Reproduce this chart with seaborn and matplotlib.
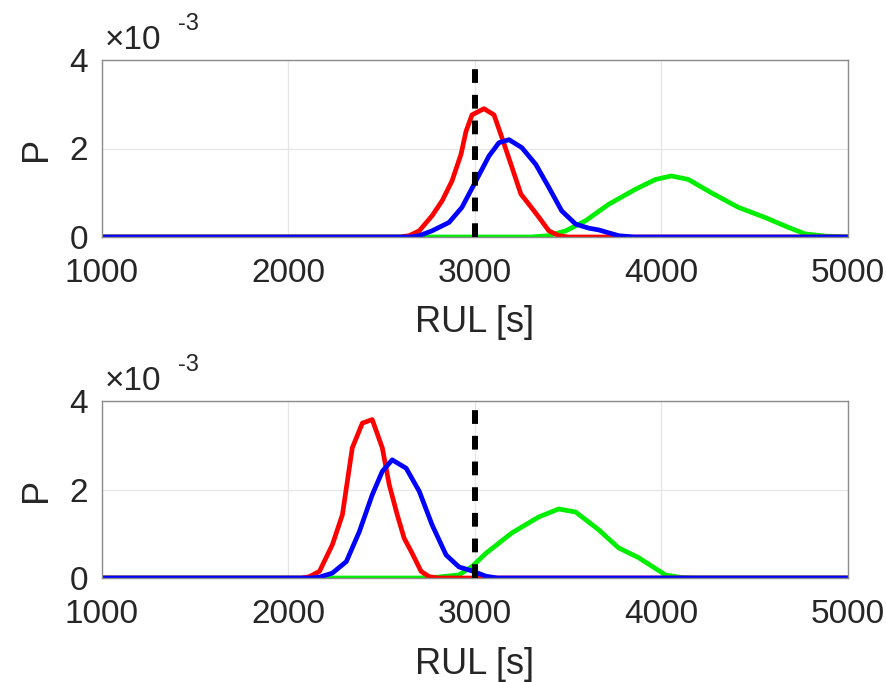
import matplotlib
matplotlib.use("Agg")
import matplotlib.pyplot as plt
import matplotlib.ticker as mticker
import seaborn as sns
import pandas as pd
import numpy as np

# ---- data (RUL in s, P in units of 1e-3) ----
top_red_x = [1000, 2600, 2647, 2701, 2770, 2824, 2877, 2925, 2952, 2984, 3048, 3102, 3144, 3193, 3246, 3289, 3342, 3396, 3449, 3500, 5000]
top_red_y = [0, 0, 0.03, 0.14, 0.48, 0.82, 1.27, 1.87, 2.39, 2.76, 2.90, 2.76, 2.25, 1.64, 0.97, 0.74, 0.45, 0.14, 0.03, 0.0, 0]
top_blue_x = [1000, 2650, 2701, 2770, 2861, 2930, 3005, 3075, 3128, 3182, 3251, 3326, 3396, 3465, 3540, 3610, 3663, 3770, 3850, 5000]
top_blue_y = [0, 0, 0.03, 0.14, 0.33, 0.67, 1.27, 1.83, 2.13, 2.20, 2.02, 1.64, 1.12, 0.59, 0.29, 0.20, 0.16, 0.03, 0.0, 0]
top_green_x = [1000, 3300, 3396, 3487, 3594, 3717, 3861, 3968, 4053, 4144, 4267, 4412, 4556, 4679, 4770, 4877, 5000]
top_green_y = [0, 0, 0.03, 0.14, 0.37, 0.74, 1.08, 1.30, 1.38, 1.30, 1.00, 0.67, 0.44, 0.22, 0.07, 0.02, 0]

bot_red_x = [1000, 2070, 2112, 2166, 2235, 2289, 2342, 2396, 2449, 2503, 2540, 2583, 2620, 2658, 2711, 2754, 2800, 5000]
bot_red_y = [0, 0, 0.03, 0.15, 0.75, 1.43, 2.94, 3.50, 3.58, 2.94, 2.11, 1.43, 0.90, 0.60, 0.15, 0.03, 0.0, 0]
bot_blue_x = [1000, 2120, 2166, 2235, 2310, 2380, 2449, 2503, 2556, 2631, 2701, 2770, 2845, 2914, 2984, 3059, 3120, 5000]
bot_blue_y = [0, 0, 0.02, 0.11, 0.37, 1.05, 1.88, 2.41, 2.67, 2.48, 1.96, 1.20, 0.52, 0.25, 0.16, 0.04, 0.0, 0]
bot_green_x = [1000, 2700, 2800, 2914, 2984, 3059, 3198, 3342, 3449, 3540, 3663, 3770, 3877, 4021, 4107, 4180, 5000]
bot_green_y = [0, 0, 0.02, 0.07, 0.26, 0.56, 1.02, 1.38, 1.56, 1.49, 1.09, 0.68, 0.46, 0.07, 0.01, 0.0, 0]

true_rul = 3000
x_ticks = [1000, 2000, 3000, 4000, 5000]
y_ticks = [0, 2, 4]

sns.set_style("whitegrid")
plt.rcParams['font.family'] = ['Liberation Sans', 'DejaVu Sans']

TXT = "#262626"


def make_df(rx, ry, bx, by, gx, gy):
    frames = []
    for name, xs, ys in [("green", gx, gy), ("red", rx, ry), ("blue", bx, by)]:
        frames.append(pd.DataFrame({"RUL": xs, "P": ys, "series": name}))
    return pd.concat(frames, ignore_index=True)


df_top = make_df(top_red_x, top_red_y, top_blue_x, top_blue_y, top_green_x, top_green_y)
df_bot = make_df(bot_red_x, bot_red_y, bot_blue_x, bot_blue_y, bot_green_x, bot_green_y)

palette = {"green": "#00ee00", "red": "#ff0000", "blue": "#0000ff"}

W, H = 887, 682
fig = plt.figure(figsize=(W / 100, H / 100), dpi=100)
ax1 = fig.add_axes([102 / W, 1 - 237 / H, 746 / W, 177 / H])
ax2 = fig.add_axes([102 / W, 1 - 578 / H, 746 / W, 177 / H])

for ax, df, top_px in [(ax1, df_top, 60), (ax2, df_bot, 401)]:
    sns.lineplot(data=df, x="RUL", y="P", hue="series", palette=palette,
                 hue_order=["green", "red", "blue"], linewidth=3.4,
                 legend=False, ax=ax, sort=False)
    ax.axvline(true_rul, color="black", linestyle=(0, (2.3, 2.0)), linewidth=4.3, zorder=5)
    ax.set_xlim(1000, 5000)
    ax.set_ylim(0, 4)
    ax.set_xticks(x_ticks)
    ax.set_yticks(y_ticks)
    ax.xaxis.set_major_formatter(mticker.FuncFormatter(lambda v, p: f"{v:.0f}"))
    ax.yaxis.set_major_formatter(mticker.FuncFormatter(lambda v, p: f"{v:.0f}"))
    ax.set_xlabel("RUL [s]", fontsize=26, color=TXT, labelpad=12)
    ax.set_ylabel("P", fontsize=26, color=TXT, labelpad=11)
    ax.tick_params(axis="x", labelsize=24, labelcolor=TXT, direction="in",
                   length=4, width=0.8, pad=15, color="#555555")
    ax.tick_params(axis="y", labelsize=24, labelcolor=TXT, direction="in",
                   length=4, width=0.8, pad=10, color="#555555")
    ax.grid(True, color="#e6e6e6", linewidth=0.9)
    for s in ax.spines.values():
        s.set_visible(True)
        s.set_color("#8c8c8c")
        s.set_linewidth(1.0)
    # exponent label (MATLAB style)
    fig.text(105 / W, 1 - (top_px - 11) / H, "\u00d710", fontsize=24, color=TXT,
             ha="left", va="baseline")
    fig.text(178 / W, 1 - (top_px - 30) / H, "-3", fontsize=17, color=TXT,
             ha="left", va="baseline")

fig.savefig("out.png", dpi=100)
